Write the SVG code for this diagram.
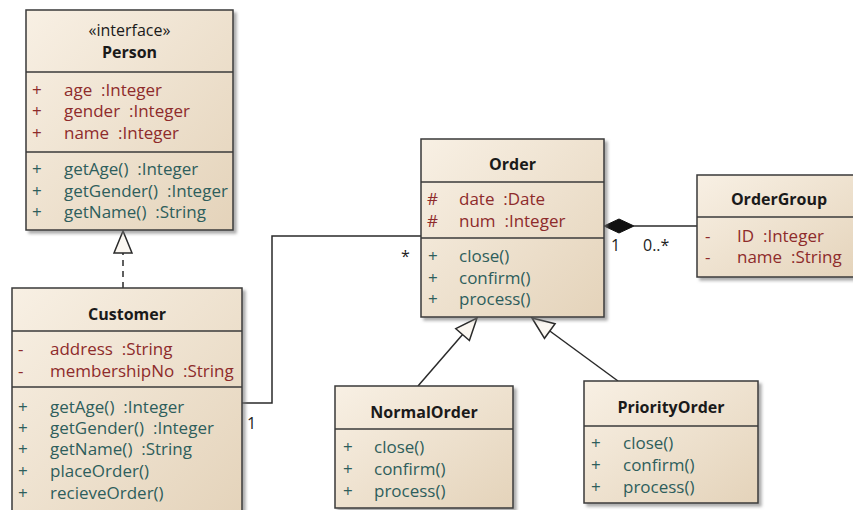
<svg xmlns="http://www.w3.org/2000/svg" width="853" height="510" viewBox="0 0 853 510">
<defs>
<linearGradient id="g" x1="0" y1="0" x2="1" y2="1">
<stop offset="0" stop-color="#f8f0e4"/>
<stop offset="1" stop-color="#e4d3ba"/>
</linearGradient>
<filter id="sh" x="-10%" y="-10%" width="130%" height="130%">
<feDropShadow dx="3" dy="3" stdDeviation="1.5" flood-color="#777" flood-opacity="0.6"/>
</filter>
</defs>
<style>
.box{fill:url(#g);stroke:#3a3a3a;stroke-width:1.5;filter:url(#sh)}
.sep{stroke:#3a3a3a;stroke-width:1.5}
text{font-family:"Open Sans","Liberation Sans",sans-serif;font-size:17px;white-space:pre}
.t{font-weight:bold;fill:#1a1a1a;text-anchor:middle;font-size:16px}
.st{fill:#1a1a1a;text-anchor:middle;font-size:16px}
.a{fill:#8e2b2b}
.o{fill:#2e5e5c}
.l{fill:#222;font-size:16px}
.ln{fill:none;stroke:#2a2a2a;stroke-width:1.5}
.tri{fill:#fbf7f1;stroke:#2a2a2a;stroke-width:1.5}
</style>
<rect width="853" height="510" fill="#fff"/>
<g id="connectors">
<path class="ln" d="M123,288 V253" stroke-dasharray="6,5"/>
<polygon class="tri" points="123,231 114,253 132,253"/>
<polyline class="ln" points="242,403 272,403 272,236 421,236"/>
<line class="ln" x1="634" y1="226" x2="697" y2="226"/>
<polygon points="604,226 619,219 634,226 619,233" fill="#111" stroke="#111"/>
<line class="ln" x1="418" y1="386" x2="462.6" y2="334.6"/>
<polygon class="tri" points="477,318 469.4,340.5 455.8,328.7"/>
<line class="ln" x1="618" y1="381" x2="549.8" y2="331"/>
<polygon class="tri" points="532,318 544.5,338.3 555.1,323.7"/>
<text class="l" x="247" y="429">1</text>
<text class="l" x="401" y="262">*</text>
<text class="l" x="611" y="251">1</text>
<text class="l" x="643" y="251">0..*</text>
</g>
<g id="Person">
<rect class="box" x="26" y="10" width="207" height="220"/>
<line class="sep" x1="26" y1="72" x2="233" y2="72"/>
<line class="sep" x1="26" y1="152" x2="233" y2="152"/>
<text class="st" x="129.5" y="36">«interface»</text>
<text class="t" x="129.5" y="58">Person</text>
<text class="a" x="32" y="96">+</text><text class="a" x="64" y="96" xml:space="preserve">age  :Integer</text>
<text class="a" x="32" y="117">+</text><text class="a" x="64" y="117" xml:space="preserve">gender  :Integer</text>
<text class="a" x="32" y="139">+</text><text class="a" x="64" y="139" xml:space="preserve">name  :Integer</text>
<text class="o" x="32" y="175">+</text><text class="o" x="64" y="175" xml:space="preserve">getAge()  :Integer</text>
<text class="o" x="32" y="197">+</text><text class="o" x="64" y="197" xml:space="preserve">getGender()  :Integer</text>
<text class="o" x="32" y="218">+</text><text class="o" x="64" y="218" xml:space="preserve">getName()  :String</text>
</g>
<g id="Customer">
<rect class="box" x="12" y="288" width="230" height="230"/>
<line class="sep" x1="12" y1="331" x2="242" y2="331"/>
<line class="sep" x1="12" y1="387" x2="242" y2="387"/>
<text class="t" x="127" y="320">Customer</text>
<text class="a" x="18" y="355">-</text><text class="a" x="50" y="355" xml:space="preserve">address  :String</text>
<text class="a" x="18" y="377">-</text><text class="a" x="50" y="377" xml:space="preserve">membershipNo  :String</text>
<text class="o" x="18" y="413">+</text><text class="o" x="50" y="413" xml:space="preserve">getAge()  :Integer</text>
<text class="o" x="18" y="434">+</text><text class="o" x="50" y="434" xml:space="preserve">getGender()  :Integer</text>
<text class="o" x="18" y="455">+</text><text class="o" x="50" y="455" xml:space="preserve">getName()  :String</text>
<text class="o" x="18" y="477">+</text><text class="o" x="50" y="477">placeOrder()</text>
<text class="o" x="18" y="499">+</text><text class="o" x="50" y="499">recieveOrder()</text>
</g>
<g id="Order">
<rect class="box" x="421" y="139" width="183" height="178"/>
<line class="sep" x1="421" y1="182" x2="604" y2="182"/>
<line class="sep" x1="421" y1="238" x2="604" y2="238"/>
<text class="t" x="512.5" y="170">Order</text>
<text class="a" x="427" y="205">#</text><text class="a" x="459" y="205" xml:space="preserve">date  :Date</text>
<text class="a" x="427" y="227">#</text><text class="a" x="459" y="227" xml:space="preserve">num  :Integer</text>
<text class="o" x="428" y="262">+</text><text class="o" x="459" y="262">close()</text>
<text class="o" x="428" y="284">+</text><text class="o" x="459" y="284">confirm()</text>
<text class="o" x="428" y="305">+</text><text class="o" x="459" y="305">process()</text>
</g>
<g id="OrderGroup">
<rect class="box" x="697" y="175" width="165" height="102"/>
<line class="sep" x1="697" y1="217" x2="862" y2="217"/>
<text class="t" x="779" y="205">OrderGroup</text>
<text class="a" x="705" y="242">-</text><text class="a" x="737" y="242" xml:space="preserve">ID  :Integer</text>
<text class="a" x="705" y="263">-</text><text class="a" x="737" y="263" xml:space="preserve">name  :String</text>
</g>
<g id="NormalOrder">
<rect class="box" x="335" y="386" width="178" height="122"/>
<line class="sep" x1="335" y1="429" x2="513" y2="429"/>
<text class="t" x="424" y="418">NormalOrder</text>
<text class="o" x="343" y="453">+</text><text class="o" x="374" y="453">close()</text>
<text class="o" x="343" y="475">+</text><text class="o" x="374" y="475">confirm()</text>
<text class="o" x="343" y="497">+</text><text class="o" x="374" y="497">process()</text>
</g>
<g id="PriorityOrder">
<rect class="box" x="584" y="381" width="174" height="122"/>
<line class="sep" x1="584" y1="426" x2="758" y2="426"/>
<text class="t" x="671" y="413">PriorityOrder</text>
<text class="o" x="591" y="449">+</text><text class="o" x="623" y="449">close()</text>
<text class="o" x="591" y="471">+</text><text class="o" x="623" y="471">confirm()</text>
<text class="o" x="591" y="493">+</text><text class="o" x="623" y="493">process()</text>
</g>
</svg>
